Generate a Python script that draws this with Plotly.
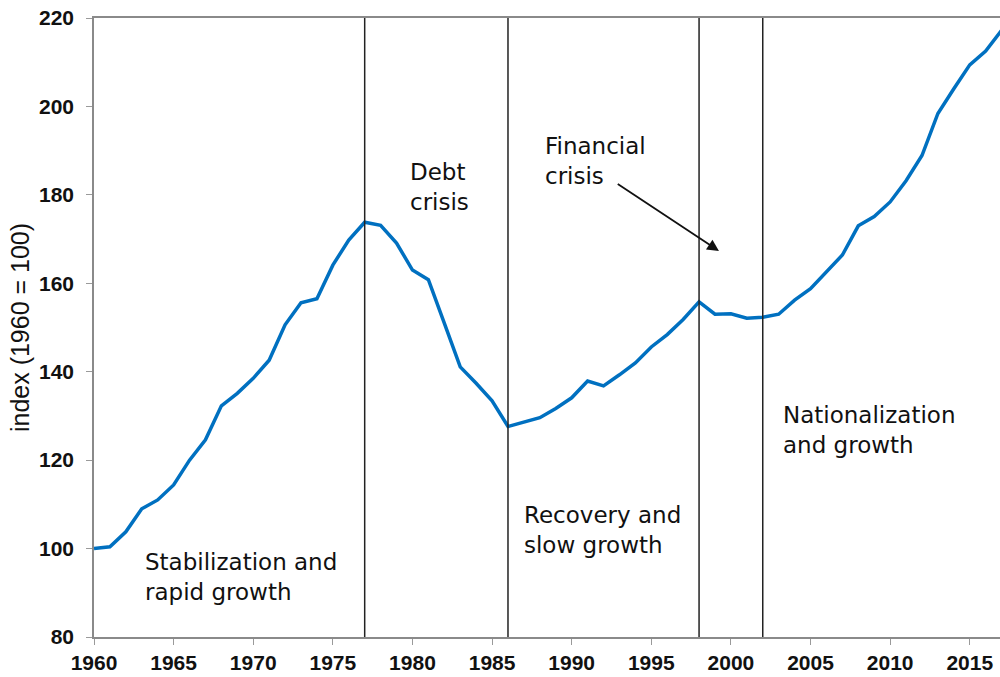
import plotly.graph_objects as go

years = list(range(1960, 2018))
index_values = [
    100.0, 100.4, 103.8, 109.0, 111.0, 114.4, 120.0, 124.6, 132.3, 135.1,
    138.5, 142.6, 150.6, 155.6, 156.5, 164.1, 169.8, 173.8, 173.1, 169.1,
    163.0, 160.8, 151.0, 141.1, 137.4, 133.4, 127.6, 128.5, 129.6, 131.7,
    134.1, 137.9, 136.8, 139.3, 142.0, 145.6, 148.4, 151.8, 155.8, 153.0,
    153.1, 152.1, 152.3, 153.0, 156.2, 158.8, 162.5, 166.4, 173.0, 175.1,
    178.4, 183.2, 188.9, 198.4, 204.0, 209.4, 212.5, 217.2,
]
period_breaks = [1977, 1986, 1998, 2002]
period_labels = [
    "Stabilization and<br>rapid growth",
    "Debt<br>crisis",
    "Recovery and<br>slow growth",
    "Nationalization<br>and growth",
]
label_x = [1963.05, 1979.7, 1986.85, 2003.15]
label_y = [93.6, 181.8, 104.2, 126.8]
x_ticks = [1960, 1965, 1970, 1975, 1980, 1985, 1990, 1995, 2000, 2005, 2010, 2015]
y_ticks = [80, 100, 120, 140, 160, 180, 200, 220]

fig = go.Figure()
fig.add_trace(go.Scatter(
    x=years, y=index_values, mode="lines",
    line=dict(color="#0070C0", width=3.5),
    showlegend=False, hoverinfo="skip",
))

for yr in period_breaks:
    fig.add_shape(type="line", xref="x", yref="paper", x0=yr, x1=yr, y0=0, y1=1,
                  line=dict(color="#222222", width=1.5))

ann_font = dict(family="DejaVu Sans", size=23, color="#111111")
for txt, lx, ly in zip(period_labels, label_x, label_y):
    fig.add_annotation(x=lx, y=ly, xref="x", yref="y", text=txt, showarrow=False,
                       xanchor="left", yanchor="middle", align="left", font=ann_font)

fig.add_annotation(x=1988.2, y=187.6, xref="x", yref="y", text="Financial<br>crisis",
                   showarrow=False, xanchor="left", yanchor="middle", align="left",
                   font=ann_font)
fig.add_annotation(x=1999.25, y=167.3, ax=1992.8, ay=182.7, xref="x", yref="y",
                   axref="x", ayref="y", text="", showarrow=True, arrowhead=2,
                   arrowsize=1.3, arrowwidth=1.8, arrowcolor="#111111")

tick_font = dict(family="Liberation Sans", size=21, color="#111111", weight="bold")
fig.update_layout(
    width=1000, height=677,
    margin=dict(l=94, r=0, t=18, b=40),
    paper_bgcolor="white", plot_bgcolor="white",
    xaxis=dict(
        range=[1960, 2016.9], tickvals=x_ticks, showgrid=False, zeroline=False,
        showline=True, linecolor="#8a8a8a", linewidth=1.5, mirror=True,
        ticks="outside", ticklen=6, tickwidth=1.2, tickcolor="#9a9a9a",
        tickfont=tick_font, fixedrange=True,
    ),
    yaxis=dict(
        range=[80, 220], tickvals=y_ticks, showgrid=False, zeroline=False,
        showline=True, linecolor="#8a8a8a", linewidth=1.5,
        ticks="outside", ticklen=6, tickwidth=1.2, tickcolor="#9a9a9a",
        tickfont=tick_font, ticklabelstandoff=8,
        title=dict(text="index (1960 = 100)", standoff=2,
                   font=dict(family="Liberation Sans", size=25, color="#111111")),
        automargin=False, fixedrange=True,
    ),
)

fig.write_html(
    "out.html",
    config={"displayModeBar": False},
    post_script="document.body.style.margin='0';document.body.style.overflow='hidden';",
)
